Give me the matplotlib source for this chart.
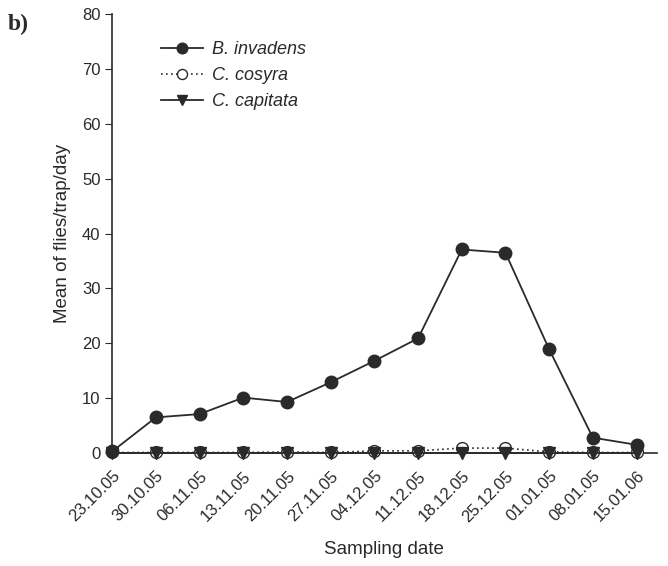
import matplotlib
matplotlib.use("Agg")
import matplotlib.pyplot as plt

plt.rcParams['font.family'] = ['Liberation Sans', 'DejaVu Sans']

dates = ["23.10.05", "30.10.05", "06.11.05", "13.11.05", "20.11.05", "27.11.05",
         "04.12.05", "11.12.05", "18.12.05", "25.12.05", "01.01.05", "08.01.05", "15.01.06"]
b_invadens = [0.3, 6.5, 7.1, 10.1, 9.3, 12.9, 16.8, 20.9, 37.1, 36.5, 18.9, 2.8, 1.5]
c_cosyra = [0.1, 0.1, 0.1, 0.1, 0.2, 0.1, 0.4, 0.4, 0.9, 0.9, 0.2, 0.1, 0.1]
c_capitata = [0.0, 0.0, 0.0, 0.0, 0.0, 0.0, 0.0, 0.0, 0.0, 0.0, 0.0, 0.0, 0.0]
y_ticks = [0, 10, 20, 30, 40, 50, 60, 70, 80]

x = list(range(len(dates)))

fig = plt.figure(figsize=(6.68, 5.66), dpi=100)
ax = fig.add_axes([0.168, 0.1996, 0.815, 0.7754])

c = "#2a2a2a"
ax.plot(x, c_cosyra, color=c, lw=1.2, ls=(0, (1, 2)), marker="o", ms=8.5,
        mfc="white", mec=c, mew=1.0, label="C. cosyra", zorder=3, clip_on=False)
ax.plot(x, c_capitata, color=c, lw=1.3, marker="v", ms=8.5, mfc=c, mec=c,
        label="C. capitata", zorder=4, clip_on=False)
ax.plot(x, b_invadens, color=c, lw=1.3, marker="o", ms=9, mfc=c, mec=c,
        label="B. invadens", zorder=5, clip_on=False)

ax.set_xlim(0, 12.46)
ax.set_ylim(0, 80)
ax.set_yticks(y_ticks)
ax.set_xticks(x)
ax.set_xticklabels(dates, rotation=45, ha="right", rotation_mode="anchor", fontsize=12)
ax.tick_params(axis="y", labelsize=12, length=5, direction="out", color=c, labelcolor=c)
ax.tick_params(axis="x", length=4, pad=7, direction="out", color=c, labelcolor=c)

for side in ("top", "right"):
    ax.spines[side].set_visible(False)
for side in ("left", "bottom"):
    ax.spines[side].set_color(c)
    ax.spines[side].set_linewidth(1.2)

ax.set_ylabel("Mean of flies/trap/day", fontsize=13.5, color=c, labelpad=8)
ax.set_xlabel("Sampling date", fontsize=13.5, color=c, labelpad=12)

handles, labels = ax.get_legend_handles_labels()
order = [2, 0, 1]
leg = ax.legend([handles[i] for i in order], [labels[i] for i in order],
                loc="upper left", bbox_to_anchor=(0.06, 0.975), frameon=False,
                handlelength=2.3, fontsize=13, labelspacing=0.5, handletextpad=0.5,
                markerscale=0.85)
for t in leg.get_texts():
    t.set_fontstyle("italic")
    t.set_color(c)

fig.text(0.012, 0.975, "b)", fontsize=17, fontweight="bold", family="Liberation Serif",
         va="top", ha="left", color=c)

fig.savefig("out.png", dpi=100)
